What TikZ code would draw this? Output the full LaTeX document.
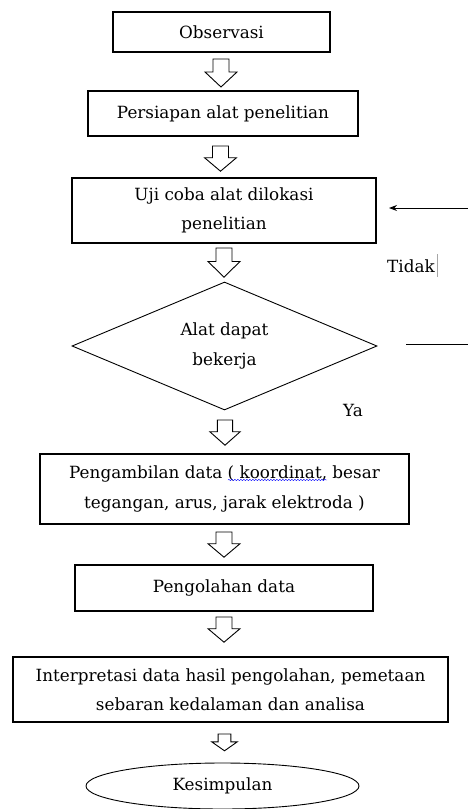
\documentclass[tikz,border=0pt]{standalone}
\usepackage{fontspec}
\setmainfont{DejaVu Serif}
\usetikzlibrary{shapes.geometric, arrows.meta, decorations.pathmorphing}

\tikzset{
    txt/.style={font=\fontsize{16.8}{29.5}\selectfont},
    box/.style={draw, line width=1.1pt, inner sep=0pt, align=center, txt},
    decision/.style={diamond, draw, line width=0.9pt, inner sep=0pt, aspect=2.36, align=center, txt},
    terminal/.style={ellipse, draw, line width=0.9pt, inner sep=0pt, txt},
    answer/.style={inner sep=0pt, anchor=base west, txt},
    arrline/.style={line width=0.9pt, fill=white},
    pics/blockdown/.style={code={
        \draw[arrline] (-8,0) -- (-8,13) -- (-16,13) -- (0,28) -- (16,13) -- (8,13) -- (8,0) -- cycle;
    }}
}

\begin{document}
\begin{tikzpicture}[x=1pt, y=-1pt]
    \useasboundingbox (0,0) rectangle (468,809);

    % Steps
    \node[box, minimum width=217pt, minimum height=40pt] (obs) at (221.5,32) {Observasi};
    \node[box, minimum width=270pt, minimum height=45pt] (prep) at (223,113.5) {Persiapan alat penelitian};
    \node[box, minimum width=304pt, minimum height=65pt] (uji) at (224,210.5) {Uji coba alat dilokasi\\penelitian};

    % Decision
    \node[decision, minimum width=305pt, minimum height=128pt] (cek) at (224.5,346) {Alat dapat\\bekerja};

    \node[box, minimum width=369pt, minimum height=70pt] (ambil) at (224.5,489) {Pengambilan data ( koordinat, besar\\tegangan, arus, jarak elektroda )};
    \node[box, minimum width=298pt, minimum height=46pt] (olah) at (224,588) {Pengolahan data};
    \node[box, minimum width=435pt, minimum height=65pt] (interp) at (230.5,689.5) {Interpretasi data hasil pengolahan, pemetaan\\sebaran kedalaman dan analisa};

    % End
    \node[terminal, minimum width=273pt, minimum height=46pt] (simpul) at (222.5,786) {Kesimpulan};

    % Block arrows between steps
    \foreach \px/\py/\sx/\sy in {221/59/1/1, 220.5/146/1/0.9, 224/248/1/1.04, 225/420/0.95/0.9,
                                 224/532/1/0.9, 224/617/1/0.9, 224.5/734/0.8/0.6} {
        \pic[xscale=\sx, yscale=\sy] at (\px,\py) {blockdown};
    }

    % Loop back (Tidak)
    \coordinate (backR) at (468,208);
    \coordinate (backL) at (389,208);
    \draw[-{Stealth[length=8pt,width=6pt]}, line width=0.9pt] (backR) -- (backL);
    \coordinate (noL) at (406,344);
    \coordinate (noR) at (468,344);
    \draw[line width=0.9pt] (noL) -- (noR);

    \node[answer] (tidak) at (387,272) {Tidak};
    \draw[gray!70, line width=0.4pt] (437,254) -- (437,277); % cursor
    \node[answer] (ya) at (343,416) {Ya};

    % spell check mark
    \draw[blue, line width=0.4pt, decorate, decoration={snake, amplitude=0.7pt, segment length=3pt}] (228,480) -- (327,480);
\end{tikzpicture}
\end{document}
